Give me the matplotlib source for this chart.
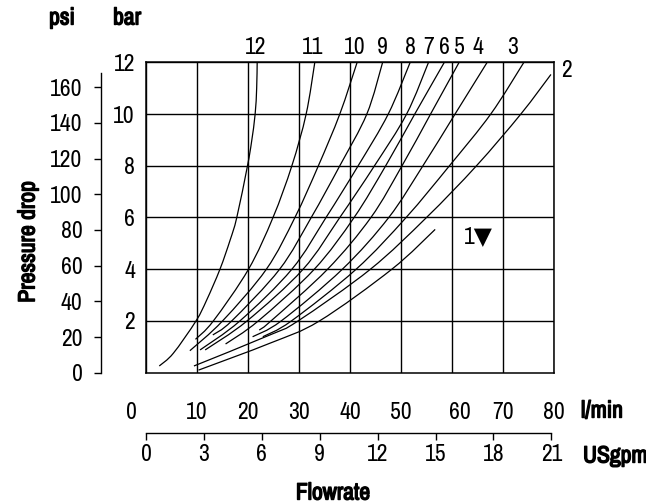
import matplotlib
matplotlib.use('Agg')
import matplotlib.pyplot as plt
import matplotlib.patheffects as pe
from matplotlib import font_manager as fm
from matplotlib.path import Path
from matplotlib.patches import PathPatch
from matplotlib.transforms import ScaledTranslation

# 找一个窄体字体；没有粗体时用描边加粗
weights = {}
for f in fm.fontManager.ttflist:
    if 'Narrow' in f.name or 'Condensed' in f.name:
        w = f.weight if isinstance(f.weight, int) else fm.weight_dict.get(f.weight, 400)
        weights.setdefault(f.name, set()).add(w)
if weights:
    family = list(weights)[0]
    has_bold = max(weights[family]) >= 600
    fs, fs_b = 17, 17
else:
    family = 'Liberation Sans'
    has_bold = True
    fs, fs_b = 14.5, 14
plt.rcParams['font.family'] = [family, 'DejaVu Sans']
if has_bold:
    bold = dict(fontsize=fs_b, fontweight='bold')
else:
    bold = dict(fontsize=fs_b, path_effects=[pe.withStroke(linewidth=1.0, foreground='black')])

# 坐标轴刻度
lmin_ticks = [0, 10, 20, 30, 40, 50, 60, 70, 80]
gpm_ticks = [0, 3, 6, 9, 12, 15, 18, 21]
bar_ticks = [2, 4, 6, 8, 10, 12]
psi_ticks = [0, 20, 40, 60, 80, 100, 120, 140, 160]

# 各曲线 (流量 l/min, 压降 bar)
curve_ids = [12, 11, 10, 9, 8, 7, 6, 5, 4, 3, 2, 1]
curve_flow = [
    [2.6, 5.35, 9.8, 11.9, 14.5, 16.5, 17.8, 19.9, 20.7, 21.4, 21.7, 21.8],
    [9.7, 13.2, 20.1, 24.9, 28.6, 31.4, 33.1],
    [8.6, 15.0, 23.6, 29.2, 33.8, 38.0, 41.4],
    [13.1, 16.8, 26.2, 32.4, 38.0, 43.3, 46.4],
    [10.6, 18.4, 28.6, 35.3, 41.6, 47.5, 51.8],
    [11.6, 19.8, 30.8, 38.0, 44.8, 51.1, 55.4],
    [15.6, 22.0, 33.0, 40.8, 47.0, 52.7, 58.5],
    [22.2, 24.5, 35.6, 44.1, 50.2, 55.8, 61.4],
    [20.9, 26.5, 38.5, 47.6, 54.3, 60.6, 66.9],
    [22.9, 28.5, 41.2, 51.0, 59.5, 67.6, 74.1],
    [9.4, 24.3, 29.8, 44.0, 55.0, 64.8, 73.5, 79.4],
    [10.3, 24.3, 34.0, 48.2, 56.7],
]
curve_bar = [
    [0.26, 0.75, 2, 2.81, 4, 5.13, 6, 8, 8.93, 10, 11.0, 12],
    [1.29, 2, 4, 6, 8, 10, 12],
    [0.85, 2, 4, 6, 8, 10, 12],
    [1.46, 2, 4, 6, 8, 10, 12],
    [0.88, 2, 4, 6, 8, 10, 12],
    [0.88, 2, 4, 6, 8, 10, 12],
    [1.11, 2, 4, 6, 8, 10, 12],
    [1.65, 2, 4, 6, 8, 10, 12],
    [1.39, 2, 4, 6, 8, 10, 12],
    [1.39, 2, 4, 6, 8, 10, 12],
    [0.26, 1.46, 2, 4, 6, 8, 10, 11.53],
    [0.10, 1.14, 2, 4, 5.54],
]

# 标签相对曲线末端的偏移 (points)
label_offset = {12: (-1, 11), 11: (-1.5, 11), 10: (-1.5, 11), 9: (0, 11),
                8: (0.5, 11), 7: (0, 11), 6: (0, 11), 5: (0, 11),
                4: (-7, 11), 3: (-8, 11), 2: (11, 3), 1: (31, -5)}
label_text = {1: '1\u25bc'}

W, H = 646, 504
def fx(px):
    return px / W
def fy(py):
    return 1 - py / H

def smooth_path(q, p):
    # 平滑连接读出的点 (Catmull-Rom 转 Bezier)
    pts = list(zip(q, p))
    verts = [pts[0]]
    codes = [Path.MOVETO]
    n = len(pts)
    for i in range(n - 1):
        p0 = pts[max(i - 1, 0)]
        p1 = pts[i]
        p2 = pts[i + 1]
        p3 = pts[min(i + 2, n - 1)]
        c1 = (p1[0] + (p2[0] - p0[0]) / 6, p1[1] + (p2[1] - p0[1]) / 6)
        c2 = (p2[0] - (p3[0] - p1[0]) / 6, p2[1] - (p3[1] - p1[1]) / 6)
        verts += [c1, c2, p2]
        codes += [Path.CURVE4] * 3
    return Path(verts, codes)

left, right, top, bottom = 146, 554, 62.3, 372.7

fig = plt.figure(figsize=(6.46, 5.04), dpi=100)
ax = fig.add_axes([fx(left), fy(bottom), (right - left) / W, (bottom - top) / H])
ax.set_xlim(0, 80)
ax.set_ylim(0, 12)
ax.set_xticks(lmin_ticks)
ax.set_yticks(bar_ticks)
ax.grid(True, color='black', linewidth=1.0)
ax.set_axisbelow(True)
ax.tick_params(axis='both', length=0, labelsize=fs)
ax.tick_params(axis='x', pad=21)
ax.tick_params(axis='y', pad=8)
for s in ax.spines.values():
    s.set_linewidth(1.1)

# 原图中 "0" 和 "60" 稍有错位
shift = {'0': -15, '60': 8}
for lab in ax.get_xticklabels():
    dx = shift.get(lab.get_text(), 0)
    if dx:
        lab.set_transform(lab.get_transform() + ScaledTranslation(dx / 100, 0, fig.dpi_scale_trans))

for cid, q, p in zip(curve_ids, curve_flow, curve_bar):
    ax.add_patch(PathPatch(smooth_path(q, p), facecolor='none',
                           edgecolor='black', linewidth=0.9))
    ax.annotate(label_text.get(cid, str(cid)), xy=(q[-1], p[-1]),
                xytext=label_offset[cid], textcoords='offset points',
                ha='center', va='center', fontsize=fs, annotation_clip=False)

# psi 轴
ax_psi = fig.add_axes([fx(100.5), fy(bottom), 0.001, (bottom - top) / H])
ax_psi.set_ylim(0, 12 * 14.5)
ax_psi.set_yticks(psi_ticks)
ax_psi.set_xticks([])
ax_psi.patch.set_visible(False)
for k in ['top', 'right', 'bottom']:
    ax_psi.spines[k].set_visible(False)
ax_psi.spines['left'].set_bounds(0, 168)
ax_psi.spines['left'].set_linewidth(1.0)
ax_psi.tick_params(axis='y', length=5, width=1.0, labelsize=fs, pad=8)

# USgpm 轴
ax_g = fig.add_axes([fx(left), fy(433), (right - left) / W, 0.0001])
ax_g.set_xlim(0, 80 / 3.785)
ax_g.set_xticks(gpm_ticks)
ax_g.set_yticks([])
ax_g.patch.set_visible(False)
for k in ['top', 'right', 'left']:
    ax_g.spines[k].set_visible(False)
ax_g.spines['bottom'].set_bounds(0, 21)
ax_g.spines['bottom'].set_linewidth(1.0)
ax_g.tick_params(axis='x', length=5, width=1.0, labelsize=fs, pad=3)

fig.text(fx(62), fy(18), 'psi', ha='center', va='center', **bold)
fig.text(fx(127), fy(18), 'bar', ha='center', va='center', **bold)
fig.text(fx(28), fy(242), 'Pressure drop', rotation=90, ha='center', va='center', **bold)
fig.text(fx(581), fy(411), 'l/min', ha='left', va='center', **bold)
fig.text(fx(583), fy(456), 'USgpm', ha='left', va='center', **bold)
fig.text(fx(333), fy(493), 'Flowrate', ha='center', va='center', **bold)

fig.savefig('out.png', dpi=100)
